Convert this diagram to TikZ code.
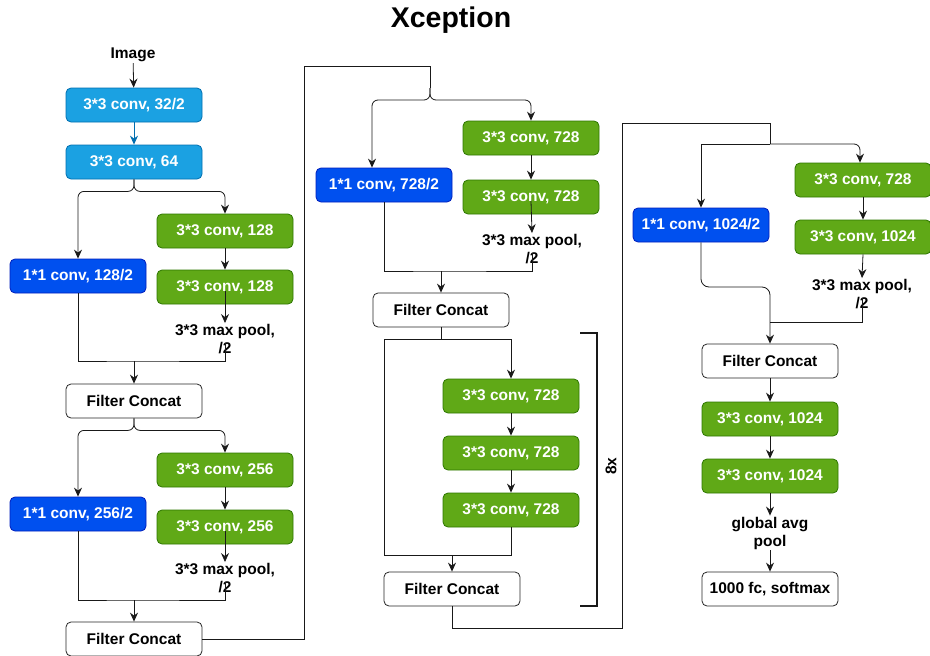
\documentclass[tikz,border=0pt]{standalone}
\usepackage{fontspec}
\setmainfont{Liberation Sans}
\usetikzlibrary{arrows.meta,calc}
\definecolor{lblue}{HTML}{1BA1E2}
\definecolor{lblueD}{HTML}{006EAF}
\definecolor{dblue}{HTML}{0050EF}
\definecolor{dblueD}{HTML}{001DBC}
\definecolor{grn}{HTML}{60A917}
\definecolor{grnD}{HTML}{2D7600}
\tikzset{
  boxst/.style={draw, rounded corners=5pt, minimum width=136pt, minimum height=34pt, inner sep=0pt, line width=0.8pt, font=\bfseries\fontsize{15.5}{18}\selectfont},
  lb/.style={boxst, fill=lblue, draw=lblueD, text=white},
  db/.style={boxst, fill=dblue, draw=dblueD, text=white},
  gr/.style={boxst, fill=grn, draw=grnD, text=white},
  wt/.style={boxst, fill=white, draw=black!85},
  lbl/.style={align=center, inner sep=1pt, font=\bfseries\fontsize{15.5}{18}\selectfont},
  ln/.style={line width=0.8pt, draw=black!90},
  arr/.style={ln, -{Stealth[length=9pt,width=8pt,inset=3pt]}},
  brk/.style={line width=2pt, draw=black!90},
}
\begin{document}
\begin{tikzpicture}[x=1pt,y=-1pt]
\useasboundingbox (0,0) rectangle (930,656);
\node[font=\bfseries\fontsize{28.5}{34}\selectfont] (title) at (451,20) {Xception};

% ---------- column 1 ----------
\node[lbl] (img) at (133,55) {Image};
\node[lb] (c1) at (134,105) {3*3 conv, 32/2};
\node[lb] (c2) at (134,162) {3*3 conv, 64};
\node[gr] (g1) at (225,231) {3*3 conv, 128};
\node[gr] (g2) at (225,287) {3*3 conv, 128};
\node[db] (k1) at (78,276) {1*1 conv, 128/2};
\node[lbl] (m1) at (225,339) {3*3 max pool,\\/2};
\node[wt] (f1) at (134,401) {Filter Concat};
\node[gr] (g3) at (225,470) {3*3 conv, 256};
\node[gr] (g4) at (225,527) {3*3 conv, 256};
\node[db] (k2) at (78,514) {1*1 conv, 256/2};
\node[lbl] (m2) at (225,578) {3*3 max pool,\\/2};
\node[wt] (f2) at (134,639) {Filter Concat};

\draw[arr] (img) -- (c1);
\draw[arr, draw=lblueD] (c1) -- (c2);
\draw[arr, rounded corners=6pt] (c2.south) -- ++(0,12) -| (k1.north);
\draw[arr, rounded corners=6pt] (c2.south) -- ++(0,12) -| (g1.north);
\draw[arr] (g1) -- (g2);
\draw[arr] ([yshift=-4pt]g2.center) -- (m1.north);
\coordinate (j1) at (134,361);
\draw[ln] (k1.south) |- (j1) -| ([yshift=-4pt]m1.center);
\draw[arr] (j1) -- (f1.north);

\draw[arr, rounded corners=6pt] (f1.south) -- ++(0,12) -| (k2.north);
\draw[arr, rounded corners=6pt] (f1.south) -- ++(0,12) -| (g3.north);
\draw[arr] (g3) -- (g4);
\draw[arr] ([yshift=-4pt]g4.center) -- (m2.north);
\coordinate (j2) at (134,600);
\draw[ln] (k2.south) |- (j2) -| ([yshift=-4pt]m2.center);
\draw[arr] (j2) -- (f2.north);

% ---------- column 2 ----------
\node[gr] (g5) at (531,138) {3*3 conv, 728};
\node[gr] (g6) at (531,197) {3*3 conv, 728};
\node[db] (k3) at (384,185) {1*1 conv, 728/2};
\node[lbl] (m3) at (532,249) {3*3 max pool,\\/2};
\node[wt] (f3) at (441,310) {Filter Concat};
\node[gr] (g7) at (511,396) {3*3 conv, 728};
\node[gr] (g8) at (511,453) {3*3 conv, 728};
\node[gr] (g9) at (511,510) {3*3 conv, 728};
\node[wt] (f4) at (452,589) {Filter Concat};

\coordinate (t1) at (430,88);
\draw[ln] (f2.east) -| (304,66) -| (t1);
\draw[arr, rounded corners=6pt] (t1) -- ++(0,12) -| ([xshift=-12pt]k3.north);
\draw[arr, rounded corners=6pt] (t1) -- ++(0,12) -| (g5.north);
\draw[arr] (g5) -- (g6);
\draw[arr] ([yshift=-4pt]g6.center) -- (m3.north);
\coordinate (j3) at (441,271);
\draw[ln] (k3.south) |- (j3) -| ([yshift=-4pt]m3.center);
\draw[arr] (j3) -- (f3.north);

\coordinate (s1) at (441,339);
\coordinate (j4) at (452,555);
\draw[ln] (f3.south) -- (s1);
\draw[arr] (s1) -| (g7.north);
\draw[ln] (s1) -| (384,555) -| (g9.south);
\draw[arr] (g7) -- (g8);
\draw[arr] (g8) -- (g9);
\draw[arr] (j4) -- (f4.north);

\draw[brk] (580,333) -- (597,333) -- (597,606) -- (580,606);
\node[rotate=90, font=\bfseries\fontsize{15.5}{18}\selectfont] (eight) at (611,466) {8x};

% ---------- column 3 ----------
\node[gr] (g10) at (863,180) {3*3 conv, 728};
\node[gr] (g11) at (863,237) {3*3 conv, 1024};
\node[db] (k4) at (701,225) {1*1 conv, 1024/2};
\node[lbl] (m4) at (862,294) {3*3 max pool,\\/2};
\node[wt] (f5) at (770,361) {Filter Concat};
\node[gr] (g12) at (770,419) {3*3 conv, 1024};
\node[gr] (g13) at (770,476) {3*3 conv, 1024};
\node[lbl] (gap) at (770,533) {global avg\\pool};
\node[wt] (fc) at (770,589) {1000 fc, softmax};

\coordinate (t2) at (770,144);
\draw[ln] (f4.south) |- (622,628) -- (622,123) -| (t2);
\draw[arr] (t2) -| (k4.north);
\draw[arr, rounded corners=6pt] (t2) -| ([xshift=-3pt]g10.north);
\draw[arr] (g10) -- (g11);
\draw[arr] (g11.south) -- (m4.north);
\draw[arr, rounded corners=8pt] (k4.south) -- (701,287) -| (f5.north);
\draw[ln] ([yshift=-4pt]m4.center) |- (770,322);
\draw[arr] (f5) -- (g12);
\draw[arr] (g12) -- (g13);
\draw[arr] (g13) -- (gap);
\draw[arr] (gap) -- (fc);
\end{tikzpicture}
\end{document}
